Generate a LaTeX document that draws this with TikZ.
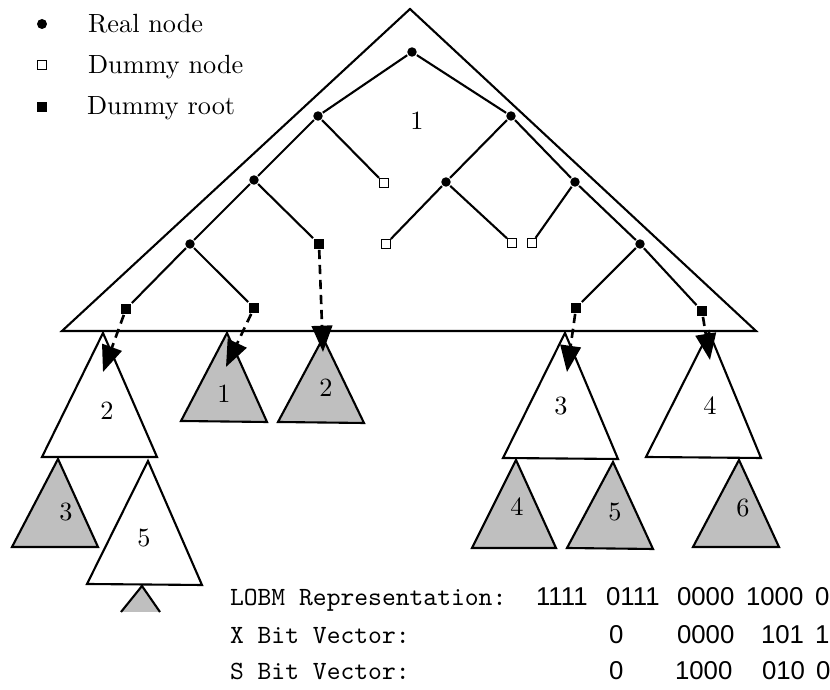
\documentclass[tikz,border=0pt]{standalone}
\usepackage{fontspec}
\newfontfamily\digitfont{Liberation Sans}
\usetikzlibrary{arrows.meta}
\definecolor{subgray}{RGB}{191,191,191}
\begin{document}
\begin{tikzpicture}[x=0.38pt,y=-0.38pt,line width=0.8pt,line join=miter,
  real/.style={circle,fill=black,inner sep=0pt,minimum size=3.6pt},
  dnode/.style={rectangle,draw=black,fill=white,line width=0.55pt,inner sep=0pt,minimum size=3.3pt},
  droot/.style={rectangle,fill=black,inner sep=0pt,minimum size=3.7pt},
  edge/.style={line width=0.8pt},
  sub/.style={draw=black,line width=0.8pt,fill=white},
  gsub/.style={sub,fill=subgray},
  ptr/.style={line width=1pt,dash pattern=on 3.5pt off 2.2pt,-{Triangle[length=10pt,width=7.8pt]}},
  lbl/.style={inner sep=0pt,font=\fontsize{10}{12}\selectfont},
  legtext/.style={inner sep=0pt,anchor=base west,font=\fontsize{10}{12}\selectfont},
  mono/.style={inner sep=0pt,anchor=base west,font=\fontsize{10}{12}\selectfont\ttfamily},
  bits/.style={inner sep=0pt,anchor=base west,font=\fontsize{9.8}{12}\selectfont\digitfont}]
\useasboundingbox (0,0) rectangle (830,690);

% legend
\node[real,minimum size=3.8pt] (kreal) at (42,24) {};
\node[legtext] (treal) at (87,33) {Real node};
\node[dnode] (kdummy) at (42,65) {};
\node[legtext] (tdummy) at (87,74) {Dummy node};
\node[droot] (kroot) at (42,107) {};
\node[legtext] (troot) at (86,115) {Dummy root};

% big triangle 1
\draw[sub] (410,9) -- (756,331) -- (62,331) -- cycle;
\node[lbl] (l1) at (417,121) {1};

% tree nodes
\node[real] (r) at (412,52) {};
\node[real] (a) at (318,116) {};
\node[real] (b) at (511,116) {};
\node[real] (c) at (254,180) {};
\node[dnode] (d1) at (384,183) {};
\node[real] (e) at (446,182) {};
\node[real] (f) at (575,182) {};
\node[real] (g) at (190,244) {};
\node[droot] (dr1) at (319,244) {};
\node[dnode] (d2) at (386,244) {};
\node[dnode] (d3) at (512,243) {};
\node[dnode] (d4) at (532,243) {};
\node[real] (h) at (640,244) {};
\node[droot] (dr2) at (126,309) {};
\node[droot] (dr3) at (254,308) {};
\node[droot] (dr4) at (576,308) {};
\node[droot] (dr5) at (702,311) {};

\draw[edge] (r) -- (a);
\draw[edge] (r) -- (b);
\draw[edge] (a) -- (c);
\draw[edge] (a) -- (d1);
\draw[edge] (b) -- (e);
\draw[edge] (b) -- (f);
\draw[edge] (c) -- (g);
\draw[edge] (c) -- (dr1);
\draw[edge] (e) -- (d2);
\draw[edge] (e) -- (d3);
\draw[edge] (f) -- (d4);
\draw[edge] (f) -- (h);
\draw[edge] (g) -- (dr2);
\draw[edge] (g) -- (dr3);
\draw[edge] (h) -- (dr4);
\draw[edge] (h) -- (dr5);

% subtrees
\draw[sub]  (103,333) -- (157,457) -- (42,457) -- cycle;
\node[lbl] (l2w) at (107,411) {2};
\draw[gsub] (227,333) -- (267,422) -- (181,421) -- cycle;
\node[lbl] (l1g) at (224,394) {1};
\draw[gsub] (323,338) -- (364,423) -- (278,422) -- cycle;
\node[lbl] (l2g) at (326,388) {2};
\draw[gsub] (58,459) -- (98,547) -- (12,547) -- cycle;
\node[lbl] (l3g) at (66,512) {3};
\draw[sub]  (148,461) -- (202,585) -- (87,584) -- cycle;
\node[lbl] (l5w) at (144,538) {5};
\fill[subgray] (142,586) -- (160,612) -- (121,612) -- cycle;
\draw (121,612) -- (142,586) -- (160,612);

\draw[sub]  (565,333) -- (618,459) -- (503,458) -- cycle;
\node[lbl] (l3w) at (561,406) {3};
\draw[sub]  (709,332) -- (761,458) -- (646,457) -- cycle;
\node[lbl] (l4w) at (710,406) {4};
\draw[gsub] (516,460) -- (556,548) -- (472,548) -- cycle;
\node[lbl] (l4g) at (517,507) {4};
\draw[gsub] (613,462) -- (653,549) -- (567,548) -- cycle;
\node[lbl] (l5g) at (615,512) {5};
\draw[gsub] (739,460) -- (779,547) -- (693,547) -- cycle;
\node[lbl] (l6g) at (743,508) {6};

% pointers
\coordinate (t1) at (103,372);
\coordinate (t2) at (226,367);
\coordinate (t3) at (323,352);
\coordinate (t4) at (567,372);
\coordinate (t5) at (710,360);
\draw[ptr] (dr2) -- (t1);
\draw[ptr] (dr3) -- (t2);
\draw[ptr] (dr1) -- (t3);
\draw[ptr] (dr4) -- (t4);
\draw[ptr] (dr5) -- (t5);

% representation text
\node[mono] (m1) at (229,606) {LOBM Representation:};
\node[mono] (m2) at (229,644) {X Bit Vector:};
\node[mono] (m3) at (229,680) {S Bit Vector:};

\node[bits] (a1) at (535,606) {1111};
\node[bits] (a2) at (605,606) {0111};
\node[bits] (a3) at (676,606) {0000};
\node[bits] (a4) at (745,606) {1000};
\node[bits] (a5) at (814,606) {0};

\node[bits] (x1) at (608,644) {0};
\node[bits] (x2) at (676,644) {0000};
\node[bits] (x3) at (760,644) {101};
\node[bits] (x4) at (814,644) {1};

\node[bits] (s1) at (608,680) {0};
\node[bits] (s2) at (674,680) {1000};
\node[bits] (s3) at (761,680) {010};
\node[bits] (s4) at (815,680) {0};
\end{tikzpicture}
\end{document}
